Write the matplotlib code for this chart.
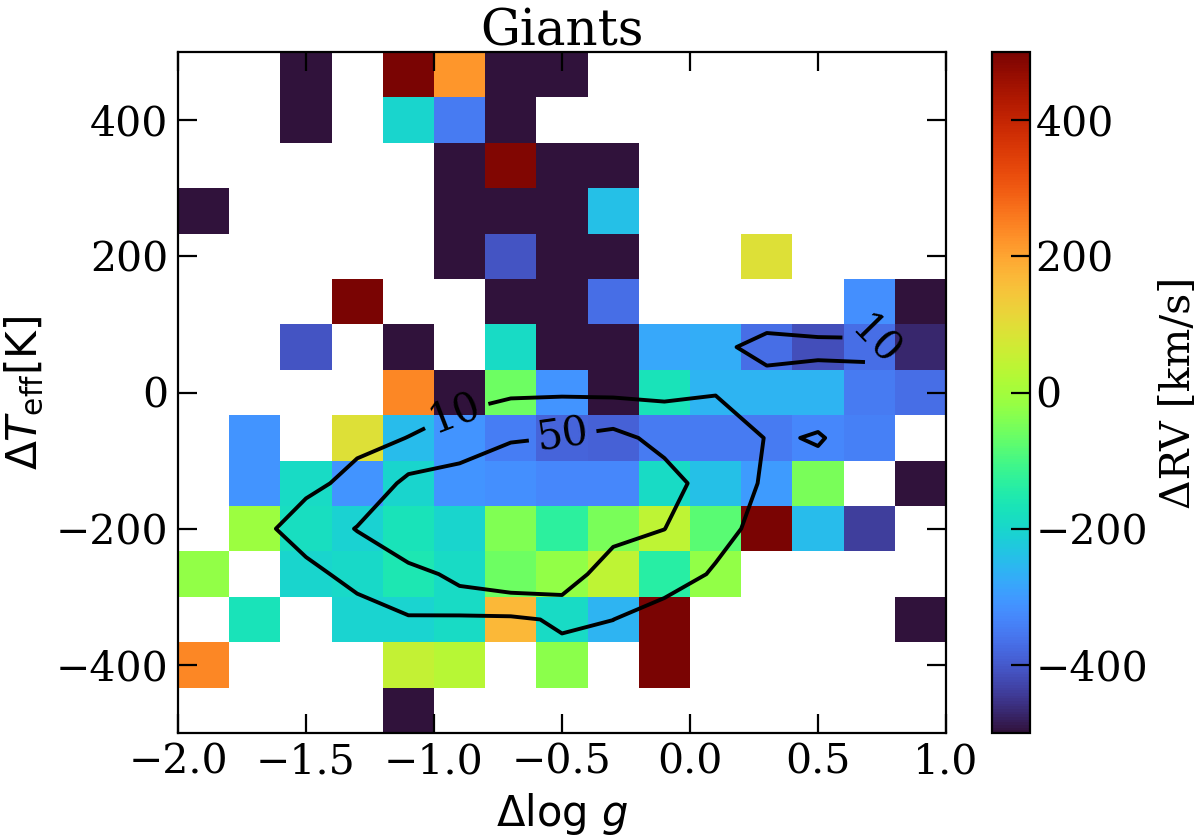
#!/usr/bin/env python

import matplotlib

matplotlib.use("Agg")
import matplotlib.pyplot as plt
import numpy as np

plt.rcParams["font.family"] = "DejaVu Serif"
plt.rcParams["mathtext.fontset"] = "dejavusans"

n = np.nan

logg_edges = [-2.0, -1.8, -1.6, -1.4, -1.2, -1.0, -0.8, -0.6, -0.4, -0.2, 0.0, 0.2, 0.4, 0.6, 0.8, 1.0]
teff_edges = [-500, -433.3, -366.7, -300, -233.3, -166.7, -100, -33.3, 33.3, 100, 166.7, 233.3, 300, 366.7, 433.3, 500]
logg_centers = [-1.9, -1.7, -1.5, -1.3, -1.1, -0.9, -0.7, -0.5, -0.3, -0.1, 0.1, 0.3, 0.5, 0.7, 0.9]
teff_centers = [-466.7, -400, -333.3, -266.7, -200, -133.3, -66.7, 0, 66.7, 133.3, 200, 266.7, 333.3, 400, 466.7]

# mean RV offset per bin, bottom row first
rv = [
    [n, n, n, n, -500, n, n, n, n, n, n, n, n, n, n],
    [240, n, n, n, 50, 30, n, -30, n, 500, n, n, n, n, n],
    [n, -170, n, -205, -205, -190, 170, -190, -260, 500, n, n, n, n, -500],
    [-20, n, -200, -195, -160, -190, -60, -20, 40, -140, -20, n, n, n, n],
    [n, -10, -180, -210, -170, -200, -40, -130, -50, 40, -80, 500, -250, -440, n],
    [n, -310, -190, -310, -200, -310, -320, -330, -330, -190, -240, -300, -50, n, -500],
    [n, -310, n, 90, -250, -310, -345, -385, -390, -350, -350, -350, -330, -340, n],
    [n, n, n, n, 240, -500, -60, -310, -500, -170, -260, -260, -260, -350, -370],
    [n, n, -410, n, -500, n, -190, -500, -500, -280, -270, -370, -415, -370, -470],
    [n, n, n, 500, n, n, -500, -500, -370, n, n, n, n, -320, -500],
    [n, n, n, n, n, -500, -410, -500, -500, n, n, 90, n, n, n],
    [-500, n, n, n, n, -500, -500, -500, -240, n, n, n, n, n, n],
    [n, n, n, n, n, -500, 490, -500, -500, n, n, n, n, n, n],
    [n, n, -500, n, -200, -350, -500, n, n, n, n, n, n, n, n],
    [n, n, -500, n, 500, 220, -500, -500, n, n, n, n, n, n, n],
]

# number of stars per bin, bottom row first
counts = [
    [0, 0, 0, 0, 1, 0, 0, 0, 0, 0, 0, 0, 0, 0, 0],
    [1, 0, 0, 0, 2, 2, 1, 1, 2, 1, 0, 0, 0, 0, 0],
    [0, 1, 1, 1, 8.3, 4.5, 4.6, 14, 10.1, 1, 0, 0, 0, 0, 1],
    [1, 0, 4, 16.8, 26.7, 66, 81.6, 80.7, 19.3, 20, 7.8, 0, 0, 0, 0],
    [0, 3, 20, 52, 120, 160, 200, 200, 70.5, 50.5, 16.6, 3.4, 1, 1, 0],
    [0, 1, 5, 15.6, 60, 70, 120, 130, 110, 65, 32, 5.2, 7.8, 1, 1],
    [0, 1, 1, 5.4, 10.3, 24.5, 42, 52, 61.6, 38, 24, 9.1, 10.48, 7.05, 0],
    [0, 0, 0, 0, 1, 0, 5.2, 5.8, 3.6, 3, 9, 5.5, 6.8, 7, 3],
    [0, 0, 1, 0, 1, 0, 1, 2, 1, 3, 7.85, 13.1, 11.3, 11.5, 6],
    [0, 0, 0, 1, 0, 0, 1, 1, 1, 0, 0, 3.1, 5.4, 4, 1],
    [0, 0, 0, 0, 0, 1, 1, 1, 1, 0, 0, 1, 0, 0, 0],
    [1, 0, 0, 0, 0, 1, 1, 1, 1, 0, 0, 0, 0, 0, 0],
    [0, 0, 0, 0, 0, 1, 1, 1, 1, 0, 0, 0, 0, 0, 0],
    [0, 0, 1, 0, 1, 1, 1, 0, 0, 0, 0, 0, 0, 0, 0],
    [0, 0, 1, 0, 1, 1, 1, 1, 0, 0, 0, 0, 0, 0, 0],
]

contour_levels = [10, 50]
label_spots = [(-0.90, -42), (-0.50, -57), (0.71, 66)]

xticks = [-2.0, -1.5, -1.0, -0.5, 0.0, 0.5, 1.0]
yticks = [-400, -200, 0, 200, 400]
cbar_ticks = [-400, -200, 0, 200, 400]

fig = plt.figure(figsize=(12, 8.36), dpi=100)
ax = fig.add_axes([178 / 1200, 103 / 836, 768 / 1200, 681 / 836])
cax = fig.add_axes([992 / 1200, 103 / 836, 38 / 1200, 681 / 836])

mesh = ax.pcolormesh(
    logg_edges, teff_edges, np.ma.masked_invalid(rv), cmap="turbo", vmin=-500, vmax=500
)
cs = ax.contour(logg_centers, teff_centers, counts, levels=contour_levels, colors="k", linewidths=2.8)
ax.clabel(cs, fmt="%d", fontsize=29.5, manual=label_spots, inline=True, inline_spacing=8)

ax.set_xlim(-2, 1)
ax.set_ylim(-500, 500)
ax.set_xticks(xticks)
ax.set_yticks(yticks)
ax.tick_params(direction="in", top=True, right=True, length=14, width=1.6, labelsize=29.5, pad=7)
ax.set_xlabel(r"$\Delta\log\,g$", fontsize=30, labelpad=6)
ax.set_ylabel(r"$\Delta T_{\rm eff}[{\rm K}]$", fontsize=30.5, labelpad=7)
ax.set_title("Giants", fontsize=36, pad=5)
for spine in ax.spines.values():
    spine.set_linewidth(1.6)

cbar = fig.colorbar(mesh, cax=cax, ticks=cbar_ticks)
cbar.ax.tick_params(direction="in", length=14, width=1.6, labelsize=29.5, pad=4)
cbar.set_label("ΔRV [km/s]", fontsize=29.5, labelpad=8)
cbar.outline.set_linewidth(1.6)

plt.savefig("out.png", dpi=100)
